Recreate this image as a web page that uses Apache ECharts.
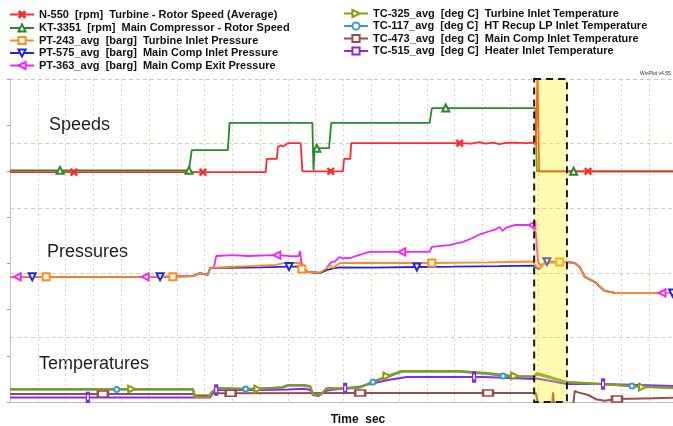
<!DOCTYPE html>
<html>
<head>
<meta charset="utf-8">
<script src="https://cdn.jsdelivr.net/npm/echarts@6.0.0/dist/echarts.min.js"></script>
<style>
  html, body { margin: 0; padding: 0; background: #fff; }
  #chart { width: 673px; height: 426px; }
</style>
</head>
<body>
<div id="chart"></div>
<script>
// time in sec, one grid column = 50 s
var timeMax = 1200;
var highlight = [943, 1002];

// speeds, krpm
var n550 = [[0,9.8],[115,9.8],[347,9.8],[460,9.8],[462,12.7],[480,12.7],[482,15.3],[487,15.6],[492,15.4],[500,16.1],[523,16.1],[526,10.0],[577,10.0],[599,10.0],[601,12.7],[612,12.7],[614,16.1],[700,16.1],[760,16.1],[809,16.1],[830,16.0],[845,16.3],[855,16.0],[870,16.2],[880,15.9],[890,16.1],[905,16.2],[930,16.1],[941,16.2],[946,15.6],[949,31],[952,10.0],[1040,10.0],[1200,10.0]];
var n550Marks = [115, 347, 577, 809, 1040];
var kt3351 = [[0,10.2],[90,10.2],[322,10.2],[327,14.6],[392,14.6],[395,20.5],[544,20.5],[546,10.2],[548,15.0],[552,15.0],[574,15.0],[578,20.5],[755,20.5],[759,23.7],[784,23.7],[945,23.7],[948,10.0],[1014,10.0],[1200,10.0]];
var kt3351Marks = [90, 322, 552, 784, 1014];

// pressures, barg
var pt363 = [[0,80],[13,80],[243,80],[329,80.5],[342,82.8],[356,81.5],[360,86.6],[367,87.0],[371,95.5],[400,96.2],[430,95.5],[460,96.0],[480,96.2],[500,95.5],[519,95.3],[522,99.2],[524,91.0],[530,86.0],[536,83.6],[558,83.0],[566,84.5],[572,88.0],[578,91.0],[585,91.5],[592,94.7],[600,93.8],[612,94.0],[630,96.5],[647,98.5],[705,98.5],[755,98.5],[759,102.2],[790,103.5],[815,106.0],[830,108.5],[845,111.5],[860,113.5],[875,115.5],[881,117.0],[886,114.1],[893,116.5],[908,118.5],[939,118.5],[946,112.6],[950,91.0],[955,88.5],[962,90.3],[1002,91.0],[1016,90.3],[1025,87.3],[1034,80],[1052,76.2],[1070,69.5],[1088,68],[1173,68],[1200,68]];
var pt363Marks = [13, 243, 480, 705, 939, 1173];
var pt575 = [[0,80],[40,80],[270,80],[329,80.5],[342,82.8],[356,81.5],[360,86.6],[392,86.6],[450,87.0],[502,87.6],[520,87.6],[527,85.8],[536,83.6],[558,83.0],[570,85.0],[581,86.3],[594,87.0],[650,86.8],[732,87.3],[800,87.6],[880,88.0],[941,88.4],[948,86.5],[953,86.0],[962,90.3],[966,91.3],[1002,91.0],[1016,90.3],[1025,87.3],[1034,80],[1052,76.2],[1070,69.5],[1088,68],[1192,68],[1200,68]];
var pt575Marks = [40, 270, 502, 732, 966, 1192];
var pt243 = [[0,80],[65,80],[293,80],[329,80.5],[342,82.8],[356,81.5],[360,86.6],[392,87.3],[430,88.0],[478,88.8],[495,90.3],[522,90.3],[525,85.8],[536,83.6],[558,83.2],[570,86.6],[576,88.8],[581,86.6],[594,90.3],[650,90.3],[759,90.3],[860,90.8],[941,91.4],[944,91.2],[948,87.5],[953,86.6],[962,90.6],[989,91.0],[1002,91.0],[1016,90.3],[1025,87.3],[1034,80],[1052,76.2],[1070,69.5],[1088,68],[1200,68]];
var pt243Marks = [65, 293, 525, 759, 989];

// temperatures, deg C
var tc473 = [[0,40],[167,40],[329,40],[333,32],[358,32],[364,44],[397,44],[630,45],[860,45],[946,45],[949,52],[951,-20],[975,-20],[977,48],[979,-20],[1013,-20],[1016,55],[1022,48],[1040,35],[1056,12],[1070,6],[1092,15],[1140,18],[1200,22]];
var tc473Marks = [167, 397, 630, 860, 1092];
var tc515 = [[0,23],[140,23],[329,23],[333,22],[360,22],[366,50],[371,60],[450,60],[500,63],[530,66],[540,60],[545,35],[555,30],[568,55],[576,60],[603,68],[630,78],[680,110],[714,125],[835,125],[851,125],[900,120],[943,115],[948,117],[1002,90],[1067,90],[1200,80]];
var tc515Marks = [140, 371, 603, 835, 1067];
var tc117 = [[0,62],[192,62],[329,62],[333,25],[358,25],[362,45],[371,68],[424,65],[490,72],[500,82],[530,82],[540,75],[545,40],[550,35],[560,40],[570,68],[594,66],[630,72],[653,100],[705,152],[809,152],[860,140],[887,130],[943,126],[948,138],[955,133],[1002,98],[1056,90],[1119,80],[1200,70]];
var tc117Marks = [192, 424, 653, 887, 1119];
var tc325 = [[0,65],[219,65],[329,65],[333,25],[358,25],[362,45],[371,70],[446,65],[490,75],[500,85],[530,85],[540,80],[545,40],[550,35],[560,40],[570,70],[594,68],[630,75],[678,130],[705,155],[809,155],[860,145],[908,130],[943,128],[948,145],[955,140],[1002,100],[1056,92],[1138,75],[1200,70]];
var tc325Marks = [219, 446, 678, 908, 1138];

var names = [
  "N-550  [rpm]  Turbine - Rotor Speed (Average)",
  "KT-3351  [rpm]  Main Compressor - Rotor Speed",
  "PT-243_avg  [barg]  Turbine Inlet Pressure",
  "PT-575_avg  [barg]  Main Comp Inlet Pressure",
  "PT-363_avg  [barg]  Main Comp Exit Pressure",
  "TC-325_avg  [deg C]  Turbine Inlet Temperature",
  "TC-117_avg  [deg C]  HT Recup LP Inlet Temperature",
  "TC-473_avg  [deg C]  Main Comp Inlet Temperature",
  "TC-515_avg  [deg C]  Heater Inlet Temperature"
];

var FONT = "'Liberation Sans', Arial, sans-serif";
var xPath = "path://M4.3,0H5.7V4.3H10V5.7H5.7V10H4.3V5.7H0V4.3H4.3Z";

function trend(name, pts, marks, color, axis, symbol, size, rotate, width) {
  return {
    name: name,
    type: "line",
    xAxisIndex: 0,
    yAxisIndex: axis,
    data: pts.map(function (p) {
      return marks.indexOf(p[0]) >= 0 ? p : { value: p, symbol: "none" };
    }),
    symbol: symbol,
    symbolSize: size,
    symbolRotate: rotate || 0,
    showAllSymbol: true,
    silent: true,
    lineStyle: { color: color, width: width || 1.8 },
    itemStyle: { color: color, borderColor: color, borderWidth: 1.3 }
  };
}

function legendCol(data, left) {
  return {
    data: data,
    orient: "vertical",
    left: left,
    top: 3,
    itemWidth: 24,
    itemHeight: 9,
    itemGap: 1.5,
    selectedMode: false,
    textStyle: { fontSize: 11, fontWeight: "bold", color: "#111", lineHeight: 11, fontFamily: FONT }
  };
}

var myChart = echarts.init(document.getElementById("chart"));
var option = {
  animation: false,
  backgroundColor: "#fff",
  textStyle: { fontFamily: FONT },
  legend: [legendCol(names.slice(0, 5), 4), legendCol(names.slice(5), 338)],
  grid: { left: 10, top: 79, width: 667, height: 323, containLabel: false, outerBoundsMode: "none" },
  xAxis: [
    {
      type: "value",
      min: 0,
      max: timeMax,
      interval: 50,
      name: "Time  sec",
      nameLocation: "middle",
      nameGap: 12,
      nameTextStyle: { fontSize: 12, fontWeight: "bold", color: "#111", padding: [0, 0, 0, 29] },
      axisLine: { lineStyle: { color: "#a8a8a8", width: 1 } },
      axisTick: { show: false },
      axisLabel: { show: false },
      splitLine: { show: true, lineStyle: { color: "#d2d2d2", type: [2, 3] } }
    },
    {
      type: "value",
      position: "top",
      min: 0,
      max: timeMax,
      axisLine: { lineStyle: { color: "#bdbdbd", width: 1 } },
      axisTick: { show: false },
      axisLabel: { show: false },
      splitLine: { show: false }
    }
  ],
  yAxis: [
    {
      type: "value",
      min: 0,
      max: 7,
      interval: 1,
      axisLine: { show: true, lineStyle: { color: "#c4c4c4" } },
      axisTick: { show: true, length: 3, lineStyle: { color: "#a0a0a0" } },
      axisLabel: { show: false },
      splitLine: { show: false }
    },
    {
      type: "value",
      min: 0,
      max: 5,
      interval: 1,
      axisLine: { show: false },
      axisTick: { show: false },
      axisLabel: { show: false },
      splitLine: {
        show: true,
        lineStyle: {
          color: ["#c8c8c8", "#cdcdcd", "#d6d69c", "#cdcdcd", "#d6d69c", "#c8c8c8"],
          type: [4, 3]
        }
      }
    },
    { type: "value", show: false, min: -40, max: 30 },
    { type: "value", show: false, min: -13, max: 227 },
    { type: "value", show: false, min: 0, max: 1615 }
  ],
  graphic: [
    { type: "text", x: 49, y: 125, style: { text: "Speeds", fontSize: 18, fontFamily: FONT, fill: "#1e1e1e", verticalAlign: "middle" } },
    { type: "text", x: 47, y: 252, style: { text: "Pressures", fontSize: 18, fontFamily: FONT, fill: "#1e1e1e", verticalAlign: "middle" } },
    { type: "text", x: 39, y: 364, style: { text: "Temperatures", fontSize: 18, fontFamily: FONT, fill: "#1e1e1e", verticalAlign: "middle" } },
    { type: "text", x: 640, y: 74, style: { text: "WinPlot v4.55", fontSize: 5, fontFamily: FONT, fill: "#333", verticalAlign: "middle" } }
  ],
  series: [
    trend(names[1], kt3351, kt3351Marks, "#2a8a2a", 2, "emptyTriangle", 7),
    trend(names[0], n550, n550Marks, "#ff2a2a", 2, xPath, 8, 45),
    trend(names[4], pt363, pt363Marks, "#f227f2", 3, "emptyTriangle", 7, 90),
    trend(names[3], pt575, pt575Marks, "#2424e6", 3, "emptyTriangle", 7, 180),
    trend(names[2], pt243, pt243Marks, "#ff8c1e", 3, "emptyRect", 7),
    trend(names[7], tc473, tc473Marks, "#9b4d4d", 4, "emptyRect", [10, 6], 0, 2),
    trend(names[8], tc515, tc515Marks, "#8a2be2", 4, "emptyRect", [3, 8], 0, 2),
    trend(names[6], tc117, tc117Marks, "#3a9ad9", 4, "emptyCircle", 5, 0, 2.2),
    trend(names[5], tc325, tc325Marks, "#8f9a14", 4, "emptyTriangle", 7, -90, 2.2),
    {
      type: "custom",
      xAxisIndex: 0,
      yAxisIndex: 0,
      z: 10,
      silent: true,
      data: [highlight],
      renderItem: function (params, api) {
        var p0 = api.coord([api.value(0), 7]);
        var p1 = api.coord([api.value(1), 0]);
        var rect = { x: p0[0], y: p0[1], width: p1[0] - p0[0], height: p1[1] - p0[1] };
        return {
          type: "group",
          children: [
            { type: "rect", shape: rect, style: { fill: "rgba(255,245,0,0.3)", stroke: null } },
            { type: "rect", shape: rect, style: { fill: null, stroke: "#1a1a1a", lineWidth: 2, lineDash: [7, 5] } }
          ]
        };
      }
    }
  ]
};
myChart.setOption(option);
window.onresize = function () {
  myChart.resize();
};
</script>
</body>
</html>
